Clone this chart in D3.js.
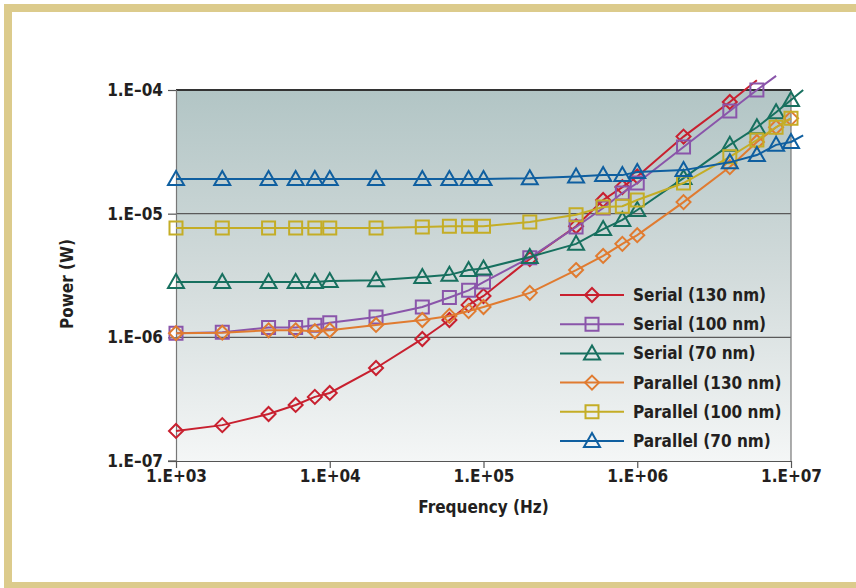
<!DOCTYPE html>
<html>
<head>
<meta charset="utf-8">
<script src="https://cdn.jsdelivr.net/npm/d3@7/dist/d3.min.js"></script>
<style>
  html, body { margin: 0; padding: 0; background: #fff; }
  svg { display: block; }
  text { font-family: "DejaVu Sans Condensed", "DejaVu Sans", sans-serif; font-stretch: condensed; font-weight: bold; fill: #231f20; }
</style>
</head>
<body>
<svg id="chart"></svg>
<script>
// frequency points (Hz); the last one only carries line ends past 1E+07
const freqs = [1e3, 2e3, 4e3, 6e3, 8e3, 1e4, 2e4, 4e4, 6e4, 8e4, 1e5,
  2e5, 4e5, 6e5, 8e5, 1e6, 2e6, 4e6, 6e6, 8e6, 1e7, 1.2e7];

const serial130 = [1.75e-7, 1.95e-7, 2.4e-7, 2.84e-7, 3.3e-7, 3.55e-7, 5.65e-7, 9.7e-7, 1.38e-6, 1.83e-6, 2.16e-6,
  4.3e-6, 7.9e-6, 1.29e-5, 1.64e-5, 2.0e-5, 4.2e-5, 8.0e-5, 1.2e-4, null, null, null];
const serial100 = [1.08e-6, 1.1e-6, 1.2e-6, 1.2e-6, 1.25e-6, 1.31e-6, 1.46e-6, 1.76e-6, 2.1e-6, 2.4e-6, 2.8e-6,
  4.4e-6, 7.8e-6, 1.11e-5, 1.47e-5, 1.77e-5, 3.46e-5, 6.76e-5, 1.0e-4, 1.3e-4, null, null];
const serial70 = [2.8e-6, 2.8e-6, 2.8e-6, 2.8e-6, 2.8e-6, 2.85e-6, 2.9e-6, 3.08e-6, 3.2e-6, 3.5e-6, 3.6e-6,
  4.47e-6, 5.7e-6, 7.5e-6, 8.9e-6, 1.07e-5, 1.94e-5, 3.6e-5, 5.0e-5, 6.6e-5, 8.3e-5, 1.0e-4];
const parallel130 = [1.08e-6, 1.09e-6, 1.14e-6, 1.14e-6, 1.12e-6, 1.14e-6, 1.26e-6, 1.38e-6, 1.49e-6, 1.63e-6, 1.76e-6,
  2.29e-6, 3.5e-6, 4.55e-6, 5.7e-6, 6.7e-6, 1.24e-5, 2.38e-5, 3.8e-5, 5.0e-5, 5.9e-5, null];
const parallel100 = [7.66e-6, 7.66e-6, 7.66e-6, 7.66e-6, 7.66e-6, 7.66e-6, 7.66e-6, 7.8e-6, 7.9e-6, 7.9e-6, 7.9e-6,
  8.57e-6, 9.8e-6, 1.13e-5, 1.15e-5, 1.29e-5, 1.77e-5, 2.88e-5, 3.94e-5, 5.0e-5, 5.9e-5, null];
const parallel70 = [1.91e-5, 1.91e-5, 1.91e-5, 1.91e-5, 1.91e-5, 1.91e-5, 1.91e-5, 1.91e-5, 1.91e-5, 1.91e-5, 1.91e-5,
  1.93e-5, 2.0e-5, 2.05e-5, 2.05e-5, 2.17e-5, 2.25e-5, 2.6e-5, 2.98e-5, 3.6e-5, 3.8e-5, 4.3e-5];

const seriesNames = ['Serial (130 nm)', 'Serial (100 nm)', 'Serial (70 nm)',
  'Parallel (130 nm)', 'Parallel (100 nm)', 'Parallel (70 nm)'];
const seriesColors = ['#c8202f', '#8a55aa', '#17705f', '#e07b30', '#c4ad26', '#0f5fa0'];
const seriesShapes = ['diamond', 'square', 'triangle', 'diamond', 'square', 'triangle'];

const xTicks = [1e3, 1e4, 1e5, 1e6, 1e7];
const xTickLabels = ['1.E+03', '1.E+04', '1.E+05', '1.E+06', '1.E+07'];
const yTicks = [1e-7, 1e-6, 1e-5, 1e-4];
const yTickLabels = ['1.E\u201307', '1.E\u201306', '1.E\u201305', '1.E\u201304'];

const allSeries = [serial130, serial100, serial70, parallel130, parallel100, parallel70];

const W = 856, H = 588;
const margin = { top: 90, right: 65, bottom: 127, left: 176 };

const svg = d3.select('#chart').attr('width', W).attr('height', H);

// beige frame (top, left, bottom)
const frame = '#dccb8c';
svg.append('rect').attr('x', 4).attr('y', 4).attr('width', W - 4).attr('height', 8).attr('fill', frame);
svg.append('rect').attr('x', 4).attr('y', 4).attr('width', 8).attr('height', H - 4).attr('fill', frame);
svg.append('rect').attr('x', 4).attr('y', 582).attr('width', W - 4).attr('height', 6).attr('fill', frame);

const x = d3.scaleLog().domain([1e3, 1e7]).range([margin.left, W - margin.right]);
const y = d3.scaleLog().domain([1e-7, 1e-4]).range([H - margin.bottom, margin.top]);

const defs = svg.append('defs');
const grad = defs.append('linearGradient').attr('id', 'bg').attr('x1', 0).attr('y1', 0).attr('x2', 0).attr('y2', 1);
grad.append('stop').attr('offset', '0%').attr('stop-color', '#b2c5c5');
grad.append('stop').attr('offset', '50%').attr('stop-color', '#d2dbdb');
grad.append('stop').attr('offset', '100%').attr('stop-color', '#f4f6f6');

svg.append('rect')
  .attr('x', x(1e3)).attr('y', y(1e-4))
  .attr('width', x(1e7) - x(1e3)).attr('height', y(1e-7) - y(1e-4))
  .attr('fill', 'url(#bg)');

// gridlines
svg.append('g').selectAll('line').data([1e-6, 1e-5]).join('line')
  .attr('x1', x(1e3)).attr('x2', x(1e7))
  .attr('y1', d => y(d)).attr('y2', d => y(d))
  .attr('stroke', '#5a5a5a').attr('stroke-width', 1.2);
svg.append('line').attr('x1', x(1e3)).attr('x2', x(1e7)).attr('y1', y(1e-4)).attr('y2', y(1e-4))
  .attr('stroke', '#333').attr('stroke-width', 2);
svg.append('line').attr('x1', x(1e7)).attr('x2', x(1e7)).attr('y1', y(1e-4)).attr('y2', y(1e-7))
  .attr('stroke', '#777').attr('stroke-width', 1.2);

// y axis
const yAxis = svg.append('g').attr('transform', `translate(${x(1e3)},0)`)
  .call(d3.axisLeft(y).tickValues(yTicks).tickFormat((d, i) => yTickLabels[i]).tickSize(8).tickPadding(5));
yAxis.select('.domain').attr('stroke', '#777').attr('stroke-width', 1.2);
yAxis.selectAll('.tick line').attr('stroke', '#555').attr('stroke-width', 1.2);
yAxis.selectAll('.tick text').attr('font-size', 17).attr('font-family', null).attr('fill', '#231f20');

// x axis
const xAxis = svg.append('g').attr('transform', `translate(0,${y(1e-7)})`)
  .call(d3.axisBottom(x).tickValues(xTicks).tickFormat((d, i) => xTickLabels[i]).tickSize(7).tickPadding(2).tickSizeOuter(0));
xAxis.select('.domain').attr('stroke', '#555').attr('stroke-width', 1.2);
xAxis.selectAll('.tick line').attr('stroke', '#555').attr('stroke-width', 1.2);
xAxis.selectAll('.tick text').attr('font-size', 17).attr('font-family', null).attr('fill', '#231f20');
xAxis.append('line').attr('x1', x(1e3) - 8).attr('x2', x(1e3)).attr('stroke', '#555').attr('stroke-width', 1.2);

// axis titles
svg.append('text').attr('x', x(1e5)).attr('y', 513).attr('text-anchor', 'middle')
  .attr('font-size', 17).text('Frequency (Hz)');
svg.append('text').attr('transform', 'translate(73,284) rotate(-90)').attr('text-anchor', 'middle')
  .attr('font-size', 17).text('Power (W)');

// marker shapes
function markerPath(shape) {
  if (shape === 'diamond') return 'M0,-7L7,0L0,7L-7,0Z';
  if (shape === 'square') return 'M-6.5,-6.5H6.5V6.5H-6.5Z';
  return 'M0,-8L8,6H-8Z';
}

const line = d3.line()
  .defined(d => d.v != null)
  .x(d => x(d.f))
  .y(d => y(d.v));

const plot = svg.append('g');
allSeries.forEach((vals, i) => {
  const pts = freqs.map((f, j) => ({ f: f, v: vals[j] }));
  const g = plot.append('g');
  g.append('path').datum(pts).attr('d', line)
    .attr('fill', 'none').attr('stroke', seriesColors[i]).attr('stroke-width', 2);
  g.selectAll('path.mk')
    .data(pts.filter(d => d.v != null && d.f <= 1e7 && d.v <= 1.0001e-4))
    .join('path').attr('class', 'mk')
    .attr('transform', d => `translate(${x(d.f)},${y(d.v)})`)
    .attr('d', markerPath(seriesShapes[i]))
    .attr('fill', 'none').attr('stroke', seriesColors[i]).attr('stroke-width', 2);
});

// legend
const legend = svg.append('g').attr('transform', 'translate(560,295)');
const row = legend.selectAll('g').data(seriesNames).join('g')
  .attr('transform', (d, i) => `translate(0,${i * 29.2})`);
row.append('line').attr('x1', 0).attr('x2', 64).attr('y1', 0).attr('y2', 0)
  .attr('stroke', (d, i) => seriesColors[i]).attr('stroke-width', 2);
row.append('path').attr('transform', 'translate(32,0)')
  .attr('d', (d, i) => markerPath(seriesShapes[i]))
  .attr('fill', 'none').attr('stroke', (d, i) => seriesColors[i]).attr('stroke-width', 2);
row.append('text').attr('x', 73).attr('y', 6).attr('font-size', 17).text(d => d);
</script>
</body>
</html>
